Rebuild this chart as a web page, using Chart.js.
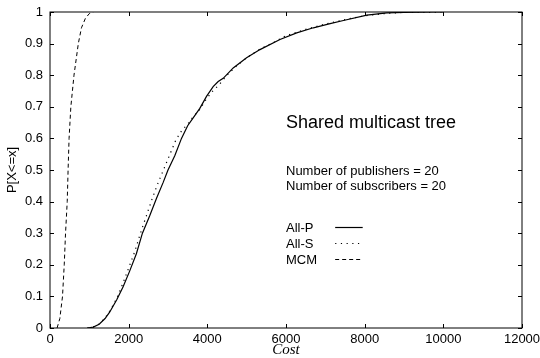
<!DOCTYPE html>
<html>
<head>
<meta charset="utf-8">
<script src="https://cdn.jsdelivr.net/npm/chart.js@4/dist/chart.umd.min.js"></script>
<style>
  html, body { margin: 0; padding: 0; background: #fff; }
  #wrap { width: 540px; height: 358px; }
</style>
</head>
<body>
<div id="wrap"><canvas id="chart" width="540" height="358"></canvas></div>
<script>
// CDF-Werte
const allPX = [950, 1100, 1250, 1400, 1516, 1700, 1856, 2025, 2196, 2350, 2535, 2706, 2875, 3000, 3172, 3343, 3500, 3640, 3809, 3979, 4148, 4276, 4403, 4658, 4998, 5338, 5847, 6272, 6696, 7121, 7460, 8056, 8565, 9000, 9800, 10000];
const allPY = [0, 0.003, 0.012, 0.03, 0.05, 0.09, 0.13, 0.18, 0.235, 0.3, 0.355, 0.41, 0.46, 0.5, 0.545, 0.6, 0.64, 0.665, 0.695, 0.733, 0.764, 0.78, 0.79, 0.823, 0.855, 0.881, 0.913, 0.934, 0.95, 0.963, 0.973, 0.99, 0.997, 0.999, 1, 1];

const allSX = [950, 1100, 1250, 1400, 1550, 1700, 1850, 2000, 2150, 2300, 2450, 2600, 2750, 2900, 3050, 3200, 3350, 3500, 3650, 3800, 3950, 4100, 4300, 4500, 4750, 5000, 5300, 5700, 6000, 6500, 7000, 7500, 8000, 8500, 9000, 10000];
const allSY = [0, 0.003, 0.013, 0.032, 0.06, 0.095, 0.14, 0.19, 0.24, 0.3, 0.355, 0.41, 0.46, 0.505, 0.55, 0.595, 0.625, 0.645, 0.67, 0.69, 0.72, 0.745, 0.77, 0.8, 0.83, 0.855, 0.88, 0.905, 0.925, 0.945, 0.962, 0.976, 0.988, 0.995, 0.999, 1];

const mcmX = [180, 250, 318, 362, 395, 438, 460, 485, 530, 610, 720, 800, 900, 1000, 1100];
const mcmY = [0, 0.03, 0.1, 0.2, 0.3, 0.4, 0.5, 0.6, 0.7, 0.8, 0.9, 0.95, 0.98, 0.995, 1];

const serien = ['All-P', 'All-S', 'MCM'];
const xTicks = [0, 2000, 4000, 6000, 8000, 10000, 12000];
const yTicks = [0, 0.1, 0.2, 0.3, 0.4, 0.5, 0.6, 0.7, 0.8, 0.9, 1];
const titel = 'Shared multicast tree';
const infoZeilen = ['Number of publishers = 20', 'Number of subscribers = 20'];

const punkte = (xs, ys) => xs.map((x, i) => ({ x, y: ys[i] }));
const stile = [
  { borderDash: [], borderWidth: 1.2 },
  { borderDash: [1.2, 4.5], borderWidth: 1.2 },
  { borderDash: [4, 3], borderWidth: 1 },
];
const daten = [punkte(allPX, allPY), punkte(allSX, allSY), punkte(mcmX, mcmY)];

const SANS = '"Liberation Sans", Arial, Helvetica, sans-serif';
Chart.defaults.color = '#000';
Chart.defaults.font.family = SANS;

// Rahmen, nach innen zeigende Ticks (wie gnuplot) und Beschriftung im Plot
const gnuplotDeko = {
  id: 'gnuplotDeko',
  afterDatasetsDraw(chart) {
    const { ctx, chartArea: a, scales: { x, y } } = chart;
    ctx.save();
    ctx.strokeStyle = '#000';
    ctx.lineWidth = 1;
    ctx.strokeRect(a.left, a.top, a.right - a.left, a.bottom - a.top);
    const tl = 4;
    ctx.beginPath();
    for (const v of xTicks) {
      const px = Math.round(x.getPixelForValue(v)) + 0.5;
      ctx.moveTo(px, a.bottom); ctx.lineTo(px, a.bottom - tl);
      ctx.moveTo(px, a.top); ctx.lineTo(px, a.top + tl);
    }
    for (const v of yTicks) {
      const py = Math.round(y.getPixelForValue(v)) + 0.5;
      ctx.moveTo(a.left, py); ctx.lineTo(a.left + tl, py);
      ctx.moveTo(a.right, py); ctx.lineTo(a.right - tl, py);
    }
    ctx.stroke();

    const tx = x.getPixelForValue(6000);
    ctx.fillStyle = '#000';
    ctx.textAlign = 'left';
    ctx.textBaseline = 'alphabetic';
    ctx.font = '18px ' + SANS;
    ctx.fillText(titel, tx, y.getPixelForValue(0.632));
    ctx.font = '13px ' + SANS;
    ctx.fillText(infoZeilen[0], tx, y.getPixelForValue(0.484));
    ctx.fillText(infoZeilen[1], tx, y.getPixelForValue(0.436));

    const legY = [0.304, 0.252, 0.204];
    const l0 = x.getPixelForValue(7250), l1 = x.getPixelForValue(7950);
    serien.forEach((name, i) => {
      const by = y.getPixelForValue(legY[i]);
      ctx.fillText(name, tx, by);
      ctx.beginPath();
      ctx.setLineDash(stile[i].borderDash);
      ctx.lineWidth = stile[i].borderWidth;
      ctx.moveTo(l0, Math.round(by - 5) + 0.5);
      ctx.lineTo(l1, Math.round(by - 5) + 0.5);
      ctx.stroke();
    });
    ctx.restore();
  }
};

new Chart(document.getElementById('chart'), {
  type: 'line',
  data: {
    datasets: serien.map((label, i) => ({
      label,
      data: daten[i],
      borderColor: '#000',
      borderWidth: stile[i].borderWidth,
      borderDash: stile[i].borderDash,
      pointRadius: 0,
      tension: 0,
      fill: false,
    })),
  },
  options: {
    responsive: false,
    animation: false,
    events: [],
    layout: { padding: { top: 12, right: 18, left: 0, bottom: 0 } },
    plugins: { legend: { display: false }, tooltip: { enabled: false } },
    scales: {
      x: {
        type: 'linear', min: 0, max: 12000,
        afterBuildTicks: (s) => { s.ticks = xTicks.map((value) => ({ value })); },
        afterFit: (s) => { s.height = 30; s.paddingLeft = 0; s.paddingRight = 0; },
        grid: { display: false, drawTicks: false },
        border: { display: false },
        ticks: { font: { size: 13 }, padding: 4, maxRotation: 0, autoSkip: false, callback: (v) => String(v) },
        title: {
          display: true, text: 'Cost', padding: 0,
          font: { family: '"Liberation Serif", "DejaVu Serif", serif', style: 'italic', size: 15, lineHeight: 1 },
        },
      },
      y: {
        type: 'linear', min: 0, max: 1,
        afterBuildTicks: (s) => { s.ticks = yTicks.map((value) => ({ value })); },
        afterFit: (s) => { s.width = 50; s.paddingTop = 0; s.paddingBottom = 0; },
        grid: { display: false, drawTicks: false },
        border: { display: false },
        ticks: { font: { size: 13 }, padding: 7, autoSkip: false, callback: (v) => String(Math.round(v * 10) / 10) },
        title: { display: true, text: 'P[X<=x]', padding: { top: 6 }, font: { size: 13, lineHeight: 1 } },
      },
    },
  },
  plugins: [gnuplotDeko],
});
</script>
</body>
</html>
